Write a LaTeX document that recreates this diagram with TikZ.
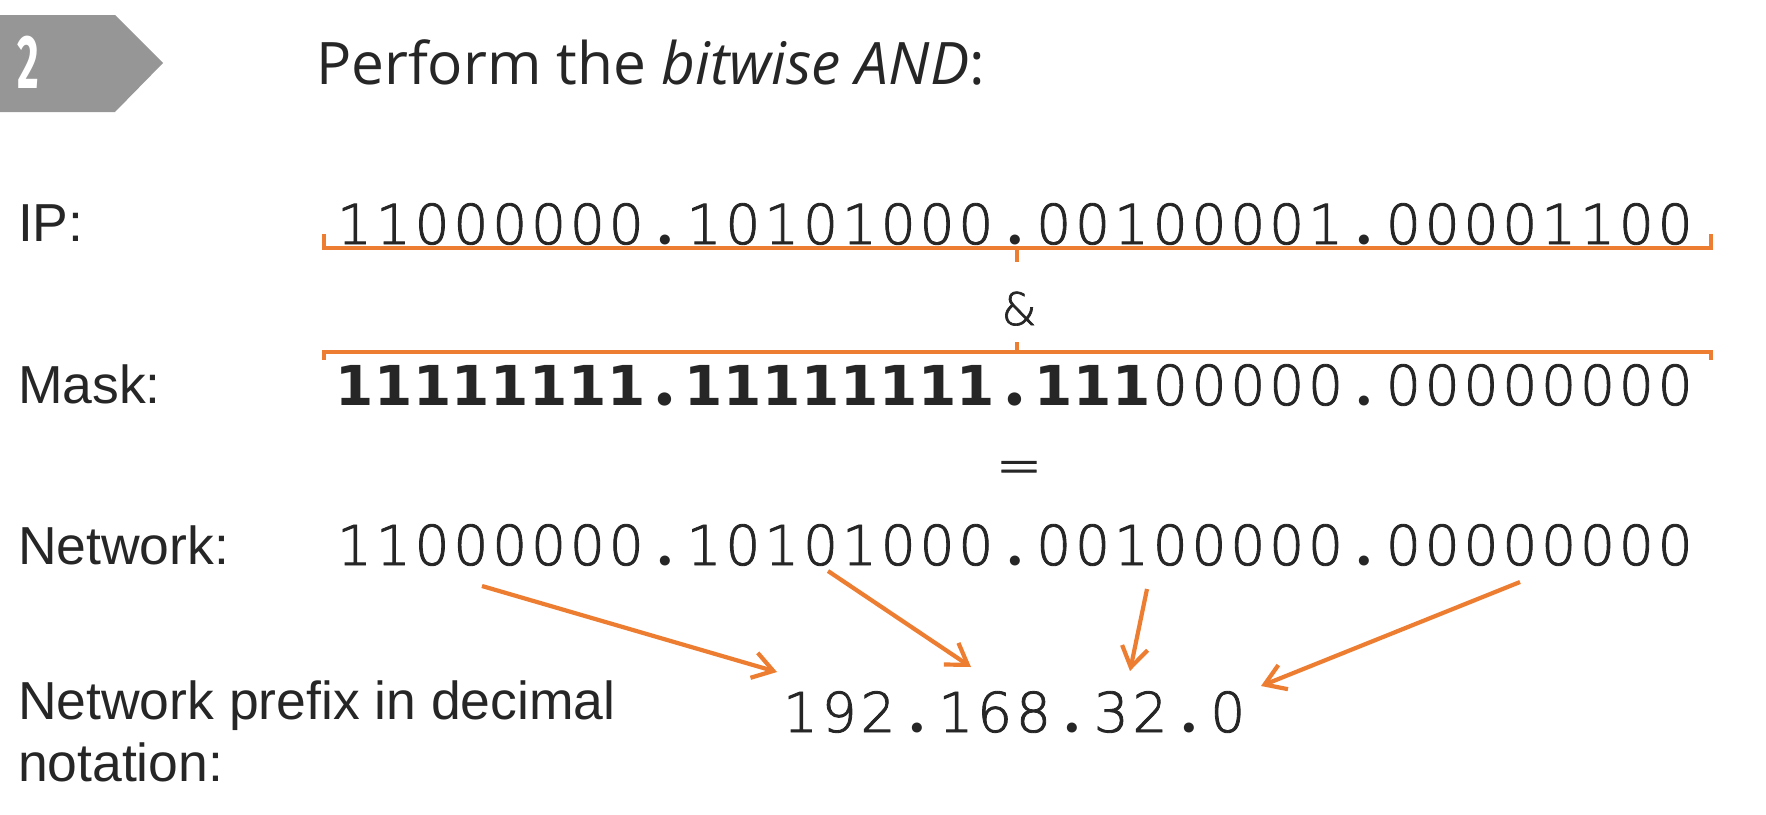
\documentclass[tikz,border=0pt]{standalone}
\usepackage{fontspec}
\setmainfont{Liberation Sans}
\newfontfamily\titlefont{Open Sans}
\newfontfamily\labelfont{Liberation Sans}
\newfontfamily\thinbits{DejaVu Sans ExtraLight}[FakeBold=1.5]
\newfontfamily\boldbits{DejaVu Sans Bold}
\newfontfamily\dotfont{Lato}
\newfontfamily\badgefont{Fira Sans}
\usetikzlibrary{arrows.meta}
\definecolor{accent}{RGB}{237,125,49}
\definecolor{badgegray}{RGB}{150,150,150}
\definecolor{ink}{RGB}{38,38,38}

% fixed-pitch setting of a digit string: every character gets a box of equal width,
% and the separating points are set as round dots
\newlength\bitpitch
\setlength\bitpitch{38.85pt}
\newcommand\octetdot{{\dotfont\bfseries\fontsize{66}{70}\selectfont.}}
\newcommand\heavydot{{\dotfont\bfseries\fontsize{88}{90}\selectfont.}}
\let\currentdot\octetdot
\makeatletter
\def\bitrow#1{\bitrow@#1\@nil}
\def\bitrow@#1{\ifx#1\@nil\else
  \ifx#1.\makebox[\bitpitch]{\currentdot}\else\makebox[\bitpitch]{#1}\fi
  \expandafter\bitrow@\fi}
\makeatother

\begin{document}
\begin{tikzpicture}[x=1pt,y=-1pt,
  every node/.style={inner sep=0pt, outer sep=0pt, text=ink},
  heading/.style={anchor=base west, font=\titlefont\fontsize{58.6}{68}\selectfont},
  rowlabel/.style={anchor=base west, font=\labelfont\fontsize{53.5}{62}\selectfont},
  bits/.style={anchor=base west, font=\thinbits\fontsize{55}{66}\selectfont},
  op/.style={anchor=base, font=\thinbits\fontsize{55}{66}\selectfont},
  brace/.style={draw=accent, line width=4pt, line join=miter},
  pointer/.style={draw=accent, line width=4.2pt, -{Straight Barb[length=20pt,width=26pt]}},
]
\useasboundingbox (0,0) rectangle (1766,814);

% step badge
\fill[badgegray] (0,15) -- (115,15) -- (163,63) -- (115,112) -- (0,112) -- cycle;
\node[text=white, font=\badgefont\bfseries\fontsize{76}{80}\selectfont] (stepno) at (28,62)
  {\scalebox{0.55}[1]{2}};

% heading
\node[heading] (title) at (316,84) {Perform the \textit{bitwise AND}:};

% row labels
\node[rowlabel] (lip)   at (18,241) {IP:};
\node[rowlabel] (lmask) at (18,403) {Mask:};
\node[rowlabel] (lnet)  at (18,564) {Network:};
\node[rowlabel] (ldec)  at (18,719) {Network prefix in decimal};
\node[rowlabel] (ldec2) at (18,781) {notation:};

% binary rows
\node[bits] (ip)   at (335,244) {\bitrow{11000000.10101000.00100001.00001100}};
\node[op, font=\thinbits\fontsize{45}{56}\selectfont] (amp) at (1019,325) {\&};
\node[bits] (mask) at (335,405)
  {{\boldbits\let\currentdot\heavydot\bitrow{11111111.11111111.111}}\bitrow{00000.00000000}};
\node[op]   (eq)   at (1019,484) {=};
\node[bits] (net)  at (335,565) {\bitrow{11000000.10101000.00100000.00000000}};
\node[bits] (dec)  at (781,732) {\bitrow{192.168.32.0}};

% brackets around the AND operands
\draw[brace] (324,234) -- (324,248) -- (1711,248) -- (1711,234);
\draw[brace] (1017,248) -- (1017,262);
\draw[brace] (324,360) -- (324,352) -- (1711,352) -- (1711,360);
\draw[brace] (1017,352) -- (1017,342);

% octet pointers
\coordinate (s1) at (482,586);  \coordinate (e1) at (777,672);
\coordinate (s2) at (828,571);  \coordinate (e2) at (971,667);
\coordinate (s3) at (1147,589); \coordinate (e3) at (1130,671);
\coordinate (s4) at (1520,582); \coordinate (e4) at (1261,686);
\draw[pointer] (s1) -- (e1);
\draw[pointer] (s2) -- (e2);
\draw[pointer] (s3) -- (e3);
\draw[pointer] (s4) -- (e4);
\end{tikzpicture}
\end{document}
